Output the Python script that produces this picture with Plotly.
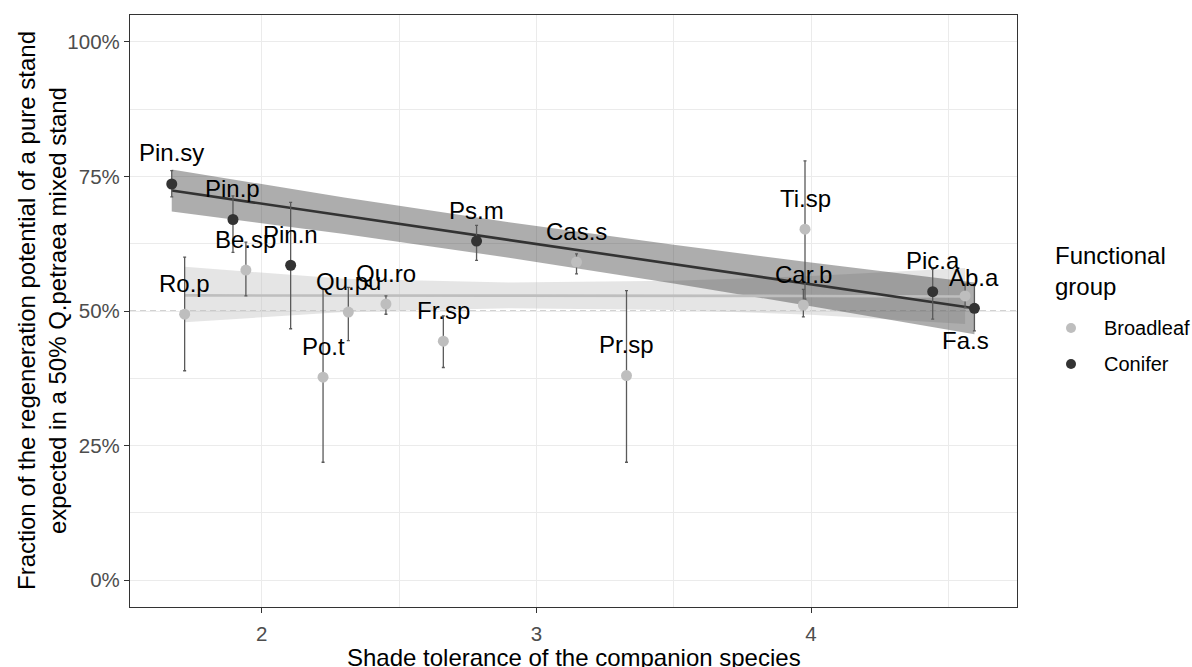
import plotly.graph_objects as go

# ---------------- data ----------------
species = ["Pin.sy", "Pin.p", "Be.sp", "Pin.n", "Ro.p", "Po.t", "Qu.pu", "Qu.ro",
           "Fr.sp", "Ps.m", "Cas.s", "Pr.sp", "Car.b", "Ti.sp", "Pic.a", "Fa.s", "Ab.a"]
group = ["Conifer", "Conifer", "Broadleaf", "Conifer", "Broadleaf", "Broadleaf", "Broadleaf", "Broadleaf",
         "Broadleaf", "Conifer", "Broadleaf", "Broadleaf", "Broadleaf", "Broadleaf", "Conifer", "Broadleaf", "Conifer"]
shade = [1.672, 1.895, 1.942, 2.105, 1.719, 2.223, 2.315, 2.452,
         2.661, 2.782, 3.146, 3.328, 3.972, 3.978, 4.443, 4.561, 4.595]
frac = [73.6, 67.0, 57.6, 58.5, 49.4, 37.7, 49.8, 51.3,
        44.4, 63.0, 59.1, 38.0, 51.1, 65.2, 53.6, 52.8, 50.5]
frac_lo = [71.2, 60.9, 52.8, 46.7, 38.9, 21.9, 44.5, 49.4,
           39.5, 59.4, 56.9, 21.9, 48.9, 52.2, 48.5, 50.6, 46.3]
frac_hi = [76.1, 71.4, 62.8, 70.2, 60.0, 54.1, 54.4, 52.8,
           49.1, 65.9, 60.6, 53.8, 54.0, 77.9, 57.8, 55.0, 54.7]

# fitted trends with confidence ribbons
broad_fit_x = [1.719, 2.3, 2.9, 3.5, 4.0, 4.561]
broad_fit_y = [52.9, 52.9, 52.8, 52.8, 52.8, 52.7]
broad_fit_lo = [47.9, 49.8, 50.5, 50.2, 49.3, 47.6]
broad_fit_hi = [58.2, 56.0, 55.3, 55.6, 56.5, 58.0]

conif_fit_x = [1.672, 2.3, 2.9, 3.5, 4.0, 4.595]
conif_fit_y = [72.4, 67.7, 63.2, 58.7, 55.0, 50.5]
conif_fit_lo = [68.5, 64.3, 59.9, 55.1, 50.9, 45.7]
conif_fit_hi = [76.3, 71.1, 66.5, 62.3, 59.0, 55.3]

groups = ["Broadleaf", "Conifer"]
y_ticks = [0, 25, 50, 75, 100]
y_tick_labels = ["0%", "25%", "50%", "75%", "100%"]
x_ticks = [2, 3, 4]

# ---------------- style ----------------
FONT = "Liberation Sans, Arial, sans-serif"
col = {"Broadleaf": "#BEBEBE", "Conifer": "#333333"}
ribbon = {"Broadleaf": "rgba(191,191,191,0.4)", "Conifer": "rgba(51,51,51,0.4)"}

fig = go.Figure()

# ribbons
for g, xs, lo, hi in [("Broadleaf", broad_fit_x, broad_fit_lo, broad_fit_hi),
                      ("Conifer", conif_fit_x, conif_fit_lo, conif_fit_hi)]:
    fig.add_trace(go.Scatter(x=xs + xs[::-1], y=hi + lo[::-1], fill="toself",
                             fillcolor=ribbon[g], line=dict(width=0), mode="lines",
                             hoverinfo="skip", showlegend=False))

# trend lines
for g, xs, ys in [("Broadleaf", broad_fit_x, broad_fit_y),
                  ("Conifer", conif_fit_x, conif_fit_y)]:
    fig.add_trace(go.Scatter(x=xs, y=ys, mode="lines",
                             line=dict(color=col[g], width=2.6),
                             hoverinfo="skip", showlegend=False))

# points with error bars
for g in groups:
    idx = [i for i, gg in enumerate(group) if gg == g]
    xs = [shade[i] for i in idx]
    ys = [frac[i] for i in idx]
    ep = [frac_hi[i] - frac[i] for i in idx]
    em = [frac[i] - frac_lo[i] for i in idx]
    fig.add_trace(go.Scatter(
        x=xs, y=ys, mode="markers", name=g, showlegend=False,
        marker=dict(color=col[g], size=11),
        error_y=dict(type="data", symmetric=False, array=ep, arrayminus=em,
                     color="#5A5A5A", thickness=1.3, width=1.5),
        text=[species[i] for i in idx]))

# labels
for s, x, y in zip(species, shade, frac):
    fig.add_annotation(x=x, y=y, text=s, showarrow=False,
                       yshift=(-45 if s == "Fa.s" else 31),
                       font=dict(family=FONT, size=24, color="black"))

# 50% reference line
fig.add_shape(type="line", xref="paper", x0=0, x1=1, y0=50, y1=50, layer="below",
              line=dict(color="#A6A6A6", width=1.1, dash="6px,4px"))

# axis titles
fig.add_annotation(xref="paper", yref="paper", x=-0.0992, y=0.5, textangle=-90,
                   text="Fraction of the regeneration potential of a pure stand<br>expected in a 50% Q.petraea mixed stand",
                   showarrow=False, xanchor="center", yanchor="middle",
                   font=dict(family=FONT, size=24, color="black"))
fig.add_annotation(xref="paper", yref="paper", x=0.5, y=-0.0845,
                   text="Shade tolerance of the companion species",
                   showarrow=False, xanchor="center", yanchor="middle",
                   font=dict(family=FONT, size=24, color="black"))

# legend (ggplot-style, placed to the right of the panel)
fig.add_annotation(xref="paper", yref="paper", x=1.0406, y=0.5676,
                   text="Functional<br>group", align="left", showarrow=False,
                   xanchor="left", yanchor="middle",
                   font=dict(family=FONT, size=24, color="black"))
for g, yp in zip(groups, [0.4713, 0.4105]):
    fig.add_shape(type="circle", xref="paper", yref="paper",
                  xsizemode="pixel", ysizemode="pixel",
                  xanchor=1.0609, yanchor=yp, x0=-5, x1=5, y0=-5, y1=5,
                  fillcolor=col[g], line=dict(width=0))
    fig.add_annotation(xref="paper", yref="paper", x=1.0958, y=yp, text=g,
                       showarrow=False, xanchor="left", yanchor="middle",
                       font=dict(family=FONT, size=20, color="black"))

fig.update_layout(
    width=1192, height=667,
    margin=dict(l=130, r=175, t=15, b=60),
    paper_bgcolor="white", plot_bgcolor="white",
    font=dict(family=FONT, color="black"),
    showlegend=False,
    xaxis=dict(range=[1.52, 4.75], tickvals=x_ticks, ticks="outside", ticklen=5,
               tickcolor="#333333", tickfont=dict(size=20.5, color="#4D4D4D"),
               showgrid=True, gridcolor="#EBEBEB", gridwidth=1.1,
               minor=dict(dtick=0.5, tick0=1.5, showgrid=True, gridcolor="#EBEBEB", gridwidth=0.6),
               showline=True, mirror=True, linecolor="#333333", linewidth=1.2,
               zeroline=False, ticklabelstandoff=3, automargin=False),
    yaxis=dict(range=[-5, 105], tickvals=y_ticks, ticktext=y_tick_labels, ticks="outside", ticklen=5,
               tickcolor="#333333", tickfont=dict(size=20.5, color="#4D4D4D"),
               showgrid=True, gridcolor="#EBEBEB", gridwidth=1.1,
               minor=dict(dtick=12.5, tick0=12.5, showgrid=True, gridcolor="#EBEBEB", gridwidth=0.6),
               showline=True, mirror=True, linecolor="#333333", linewidth=1.2,
               zeroline=False, automargin=False),
)

fig.write_html("out.html", config={"displayModeBar": False},
               post_script="document.body.style.margin='0px';")
